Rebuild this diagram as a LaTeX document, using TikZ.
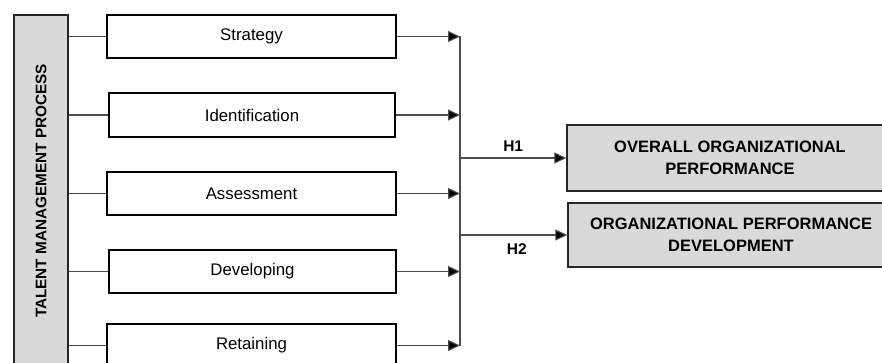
\documentclass[tikz,border=0pt]{standalone}
\usepackage{fontspec}
\setmainfont{Liberation Sans}
\usetikzlibrary{arrows.meta}
\begin{document}
\begin{tikzpicture}[x=1pt,y=-1pt,
  stepbox/.style={draw=black,line width=1.3pt,fill=white,minimum width=289pt,minimum height=43pt,inner sep=0pt,font=\fontsize{16.8}{20}\selectfont},
  outbox/.style={draw=black!85,line width=1.4pt,fill=black!15,minimum width=326pt,minimum height=66pt,inner sep=0pt,align=center,font=\fontsize{16.5}{22}\selectfont\bfseries},
  conn/.style={draw=black!70,line width=1.1pt},
  arr/.style={conn,-{Triangle[length=12pt,width=11pt,fill=black]}},
  hlab/.style={font=\fontsize{15.5}{18}\selectfont\bfseries,inner sep=0pt}]
\useasboundingbox (0,0) rectangle (882,363);
\clip (0,0) rectangle (882,363);
\node[draw=black!85,line width=1.4pt,fill=black!15,minimum width=54pt,minimum height=352pt,inner sep=0pt] (tmp) at (41,191)
  {\rotatebox{90}{\fontsize{15.3}{18}\selectfont\bfseries TALENT MANAGEMENT PROCESS}};
\node[stepbox] (s1) at (251.5,36.5) {Strategy};
\node[stepbox,minimum width=286pt,minimum height=44pt] (s2) at (252,115) {Identification};
\node[stepbox] (s3) at (251.5,193.5) {Assessment};
\node[stepbox,minimum width=287pt] (s4) at (252.5,271.5) {Developing};
\node[stepbox] (s5) at (251.5,345.5) {Retaining};
\node[outbox] (o1) at (730,158) {OVERALL ORGANIZATIONAL\\PERFORMANCE};
\node[outbox,minimum height=64pt] (o2) at (731,235) {ORGANIZATIONAL PERFORMANCE\\DEVELOPMENT};
\coordinate (bt) at (460,36.5);
\coordinate (bb) at (460,346);
\draw[conn] (bt) -- (bb);
\foreach \s in {s1,s2,s3,s4,s5}{
  \draw[conn] (tmp.east |- \s.west) -- (\s.west);
  \draw[arr] (\s.east) -- (\s.east -| bt);
}
\draw[arr] (bt |- o1.west) -- (o1.west) node[hlab,pos=0.5,above=6pt] (h1) {H1};
\draw[arr] (bt |- o2.west) -- (o2.west) node[hlab,pos=0.53,below=8pt] (h2) {H2};
\end{tikzpicture}
\end{document}
